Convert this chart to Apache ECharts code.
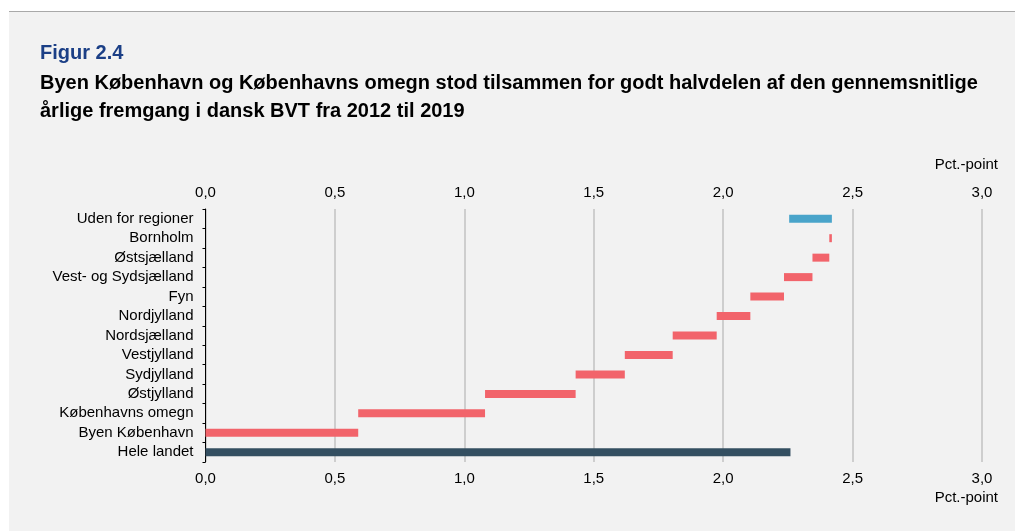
<!DOCTYPE html>
<html>
<head>
<meta charset="utf-8">
<script src="https://cdn.jsdelivr.net/npm/echarts@6/dist/echarts.min.js"></script>
<style>
html,body{margin:0;padding:0;background:#ffffff;}
#panel{position:absolute;left:9px;top:11px;width:1006px;height:520px;background:#f2f2f2;border-top:1px solid #a9a9a9;box-sizing:border-box;}
#chart{position:absolute;left:0;top:0;width:1015px;height:531px;}
</style>
</head>
<body>
<div id="panel"></div>
<div id="chart"></div>
<script>
// Categories listed bottom to top
var categories = ['Hele landet','Byen København','Københavns omegn','Østjylland','Sydjylland','Vestjylland','Nordsjælland','Nordjylland','Fyn','Vest- og Sydsjælland','Østsjælland','Bornholm','Uden for regioner'];
// Contribution to annual growth in GVA, pct.-point
var contributions = [2.26, 0.59, 0.49, 0.35, 0.19, 0.185, 0.17, 0.13, 0.13, 0.11, 0.065, 0.01, -0.165];
var barKinds = ['total','region','region','region','region','region','region','region','region','region','region','region','other'];
var xTicks = [0, 0.5, 1.0, 1.5, 2.0, 2.5, 3.0];
var axisUnit = 'Pct.-point';
var figLabel = 'Figur 2.4';
var titleText = 'Byen København og Københavns omegn stod tilsammen for godt halvdelen af den gennemsnitlige\nårlige fremgang i dansk BVT fra 2012 til 2019';

var colors = {total:'#344f61', region:'#f2646b', other:'#49a4ca'};

// waterfall: invisible base + visible length
var baseData = [], lenData = [];
var running = 0;
for (var i = 0; i < categories.length; i++) {
  var v = contributions[i];
  if (barKinds[i] === 'total') {
    baseData.push(0);
    lenData.push({value: v, itemStyle:{color: colors.total}});
  } else {
    var start = running, end = running + v;
    running = end;
    baseData.push(Math.min(start, end));
    lenData.push({value: Math.abs(v), itemStyle:{color: colors[barKinds[i]]}});
  }
}

function fmt(v){ return v.toFixed(1).replace('.', ','); }

var chart = echarts.init(document.getElementById('chart'), null, {renderer:'canvas'});
var font = '"Liberation Sans", Arial, sans-serif';
chart.setOption({
  backgroundColor: 'transparent',
  animation: false,
  textStyle: {fontFamily: font},
  title: [
    {text: figLabel, left: 35, top: 38, padding: 5, textStyle:{fontFamily: font, fontSize: 20, fontWeight: 'bold', color: '#1b3f86'}},
    {text: titleText, left: 35, top: 64, padding: 5, textStyle:{fontFamily: font, fontSize: 20, fontWeight: 'bold', color: '#000000', lineHeight: 28}}
  ],
  graphic: [
    {type:'text', right: 17, top: 157, style:{text: axisUnit, font: '15px ' + font, fill:'#000', textAlign:'right'}},
    {type:'text', right: 17, top: 490, style:{text: axisUnit, font: '15px ' + font, fill:'#000', textAlign:'right'}}
  ],
  grid: {left: 205.5, right: 33, top: 209, bottom: 69, containLabel: false},
  xAxis: [
    {type:'value', position:'bottom', min: xTicks[0], max: xTicks[xTicks.length-1], interval: 0.5,
     axisLine:{show:false}, axisTick:{show:false},
     axisLabel:{formatter: fmt, fontSize: 15, color:'#000', margin: 9, fontFamily: font},
     splitLine:{show:true, lineStyle:{color:'#c2c2c2', width:1.5}}},
    {type:'value', position:'top', min: xTicks[0], max: xTicks[xTicks.length-1], interval: 0.5,
     axisLine:{show:false}, axisTick:{show:false},
     axisLabel:{formatter: fmt, fontSize: 15, color:'#000', margin: 9, fontFamily: font},
     splitLine:{show:false}}
  ],
  yAxis: {
    type:'category', data: categories,
    axisLine:{show:true, lineStyle:{color:'#000', width:1}},
    axisTick:{show:true, length:3, inside:false, interval: 0, lineStyle:{color:'#000'}},
    axisLabel:{fontSize: 15, color:'#000', margin: 12, interval: 0, fontFamily: font},
    splitLine:{show:false}
  },
  series: [
    {type:'bar', stack:'wf', data: baseData, barWidth: 8, itemStyle:{color:'transparent'}, silent:true, xAxisIndex:0},
    {type:'bar', stack:'wf', data: lenData, barWidth: 8, xAxisIndex:0}
  ]
});
</script>
</body>
</html>
